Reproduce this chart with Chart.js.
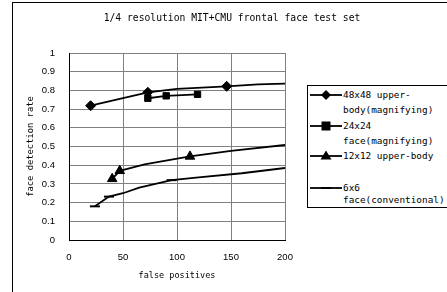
<!DOCTYPE html>
<html><head><meta charset="utf-8">
<script src="https://cdn.jsdelivr.net/npm/chart.js@4/dist/chart.umd.min.js"></script>
<style>
html,body{margin:0;padding:0;background:#fff;overflow:hidden;}
#wrap{position:relative;width:447px;height:292px;}
#frame{position:absolute;left:12px;top:2px;width:500px;height:400px;border-left:1px solid #000;border-top:1px solid #000;}
#title{position:absolute;left:0;width:464px;top:12px;text-align:center;font:9.7px "DejaVu Sans Mono",monospace;color:#000;white-space:nowrap;}
#legend{position:absolute;left:307px;top:85px;width:160px;height:121px;border:1px solid #000;background:#fff;font:9.4px "DejaVu Sans Mono",monospace;color:#000;}
.item{position:absolute;left:0;}
.item svg{position:absolute;left:1px;}
.item .t{position:absolute;left:35px;white-space:nowrap;}
canvas{position:absolute;left:0;top:0;}
</style></head>
<body><div id="wrap">
<div id="frame"></div>
<canvas id="c" width="447" height="292"></canvas>
<div id="title"></div>
<div id="legend"></div>
</div>
<script>
const chartTitle = "1/4 resolution MIT+CMU frontal face test set";
const xTitle = "false positives";
const yTitle = "face detection rate";
const seriesNames = ["48x48 upper-body(magnifying)", "24x24 face(magnifying)", "12x12 upper-body", "6x6 face(conventional)"];
const legendLines = [["48x48 upper-", "body(magnifying)"], ["24x24", "face(magnifying)"], ["12x12 upper-body"], ["6x6", "face(conventional)"]];
const xTickLabels = ["0", "50", "100", "150", "200"];
const yTickLabels = ["0", "0.1", "0.2", "0.3", "0.4", "0.5", "0.6", "0.7", "0.8", "0.9", "1"];

const s1x = [20, 73, 100, 146, 175, 200];
const s1y = [0.718, 0.79, 0.808, 0.822, 0.832, 0.836];
const s1m = [1, 1, 0, 1, 0, 0];
const s2x = [73, 90, 119];
const s2y = [0.758, 0.771, 0.779];
const s2m = [1, 1, 1];
const s3x = [40, 47, 70, 112, 150, 200];
const s3y = [0.327, 0.37, 0.405, 0.447, 0.477, 0.508];
const s3m = [1, 1, 0, 1, 0, 0];
const s4x = [24, 37, 50, 65, 80, 95, 120, 160, 200];
const s4y = [0.18, 0.232, 0.25, 0.28, 0.30, 0.32, 0.335, 0.357, 0.385];
const s4m = [1, 1, 0, 0, 0, 1, 0, 0, 0];

document.getElementById('title').textContent = chartTitle;

function pts(xs, ys){ return xs.map((x,i)=>({x:x, y:ys[i]})); }
const styles = ['rectRot', 'rect', 'triangle', 'line'];
const radii = [5, 4.5, 5.5, 5];
const marks = [s1m, s2m, s3m, s4m];
const data = [pts(s1x,s1y), pts(s2x,s2y), pts(s3x,s3y), pts(s4x,s4y)];

const datasets = data.map((d,i)=>({
  label: seriesNames[i],
  data: d,
  borderColor: '#000',
  backgroundColor: '#000',
  borderWidth: 1.8,
  pointStyle: styles[i],
  pointRadius: marks[i].map(m => m ? radii[i] : 0),
  pointBorderWidth: i===3 ? 2 : 1,
  pointBackgroundColor: '#000',
  pointBorderColor: '#000',
  tension: 0,
  showLine: true,
  fill: false
}));

// legend
const leg = document.getElementById('legend');
const tops = [1, 32, 62, 96];
const lh = [15, 15, 15, 12];
const markerSvg = [
  '<polygon points="17,2 22,7 17,12 12,7" fill="#000"/>',
  '<rect x="12.5" y="2.5" width="9" height="9" fill="#000"/>',
  '<polygon points="17,1.5 22.5,10.5 11.5,10.5" fill="#000"/>',
  '<line x1="12" y1="7" x2="22" y2="7" stroke="#000" stroke-width="2"/>'
];
legendLines.forEach((lines,i)=>{
  const it = document.createElement('div');
  it.className = 'item';
  it.style.top = tops[i] + 'px';
  const svgTop = Math.round(lh[i]/2 - 7);
  it.innerHTML = '<svg width="34" height="14" style="top:' + svgTop + 'px"><line x1="1" y1="7" x2="33" y2="7" stroke="#000" stroke-width="1.8"/>' + markerSvg[i] + '</svg>';
  const t = document.createElement('div');
  t.className = 't';
  t.style.lineHeight = lh[i] + 'px';
  t.innerHTML = lines.map(s => s.replace(/&/g,'&amp;')).join('<br>');
  it.appendChild(t);
  leg.appendChild(it);
});

new Chart(document.getElementById('c'), {
  type: 'scatter',
  data: { datasets },
  options: {
    responsive: false,
    animation: false,
    devicePixelRatio: 1,
    layout: { padding: { top: 53, right: 162, left: 0, bottom: 0 } },
    plugins: { legend: { display: false }, tooltip: { enabled: false }, title: { display: false } },
    scales: {
      x: {
        type: 'linear', min: 0, max: 200,
        afterFit: s => { s.height = 52; },
        afterBuildTicks: s => { s.ticks = xTickLabels.map(v => ({ value: Number(v) })); },
        ticks: { callback: (v) => xTickLabels[xTickLabels.indexOf(String(v))] ?? '', color: '#000', padding: 12, maxRotation: 0,
                 font: { family: 'Liberation Sans', size: 9.5 } },
        grid: { color: '#808080', drawTicks: false, lineWidth: 1 },
        border: { color: '#000', width: 1 },
        title: { display: true, text: xTitle, color: '#000', font: { family: 'DejaVu Sans Mono', size: 8.5 }, padding: { top: 0, bottom: 11 } }
      },
      y: {
        type: 'linear', min: 0, max: 1,
        afterFit: s => { s.width = 69; },
        afterBuildTicks: s => { s.ticks = yTickLabels.map(v => ({ value: Number(v) })); },
        ticks: { callback: (v) => { const i = Math.round(v*10); return yTickLabels[i] ?? ''; }, color: '#000', padding: 14,
                 font: { family: 'Liberation Sans', size: 9.5 } },
        grid: { color: '#808080', drawTicks: false, lineWidth: 1 },
        border: { color: '#000', width: 1 },
        title: { display: true, text: yTitle, color: '#000', font: { family: 'DejaVu Sans Mono', size: 8.8 }, padding: { top: 25, bottom: 0 } }
      }
    }
  }
});
</script>
</body></html>
